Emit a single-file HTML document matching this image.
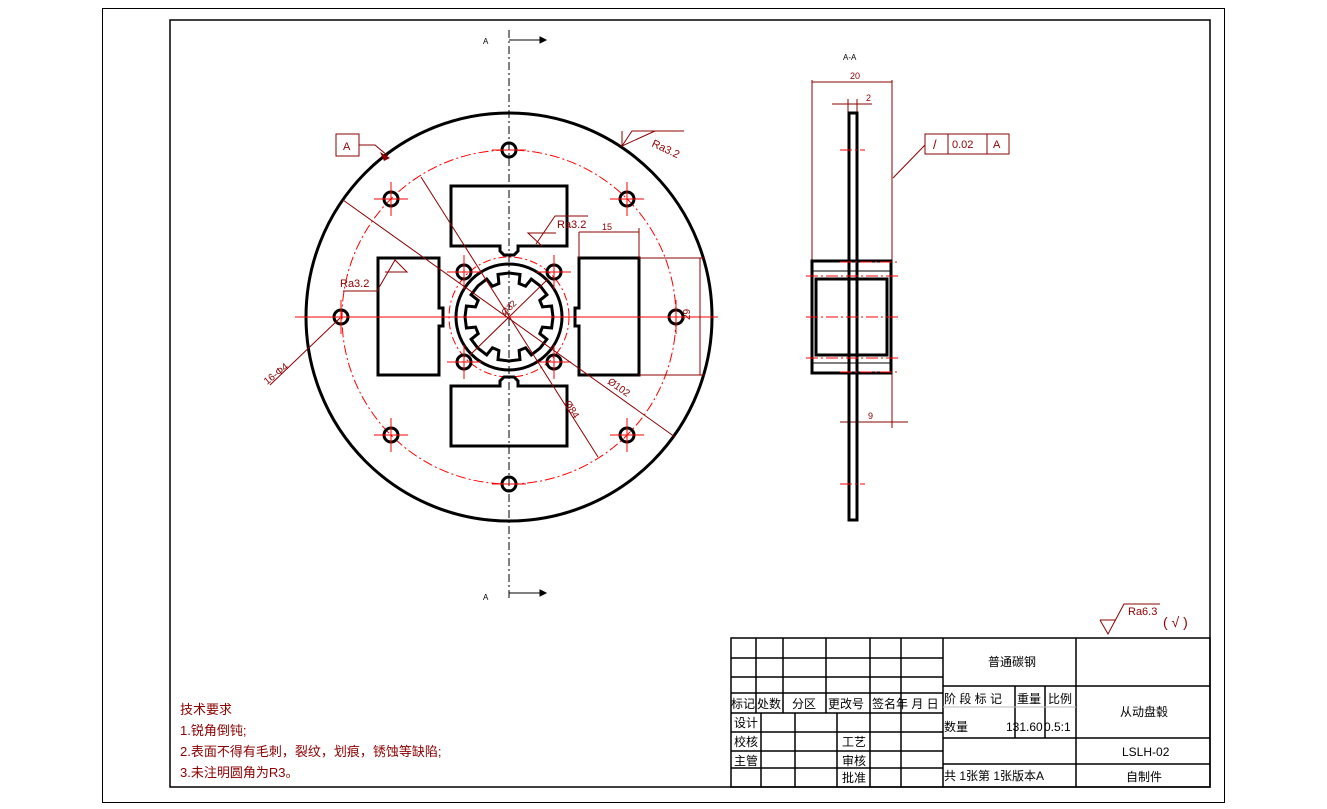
<!DOCTYPE html>
<html><head><meta charset="utf-8"><style>
html,body{margin:0;padding:0;background:#fff}
svg{display:block}
text{font-family:"Liberation Sans","Noto Sans CJK SC",sans-serif}
</style></head><body>
<svg id="s" width="1327" height="809" viewBox="0 0 1327 809" xmlns="http://www.w3.org/2000/svg">
<rect x="102.5" y="8.5" width="1122" height="794" fill="none" stroke="#000" stroke-width="1"/>
<rect x="170" y="20" width="1040" height="767" fill="none" stroke="#000" stroke-width="1.5"/>

<!-- section A markers -->
<g stroke="#000" stroke-width="1" fill="none">
<line x1="509" y1="30" x2="509" y2="600" stroke-dasharray="8,3,2,3"/>
<line x1="509" y1="40" x2="540" y2="40"/><polygon points="540,37 546,40 540,43" fill="#000"/>
<line x1="509" y1="593" x2="540" y2="593"/><polygon points="540,590 546,593 540,596" fill="#000"/>
</g>
<text x="483" y="44" font-size="8">A</text>
<text x="483" y="600" font-size="8">A</text>

<!-- main view -->
<circle cx="509" cy="317" r="167" fill="none" stroke="#f00" stroke-width="1" stroke-dasharray="10,3,2,3"/>
<circle cx="509" cy="317" r="60" fill="none" stroke="#f00" stroke-width="1" stroke-dasharray="8,3,2,3"/>
<ellipse cx="509" cy="317" rx="203" ry="204" fill="none" stroke="#000" stroke-width="3"/>
<g fill="none" stroke="#000" stroke-width="3">
<path d="M451,186 H567 V246 H518 V251 L514,255 H504 L500,251 V246 H451 Z"/>
<path d="M451,446 H567 V386 H518 V381 L514,377 H504 L500,381 V386 H451 Z"/>
<path d="M378,258 H439 V308 H443 V326 H439 V375 H378 Z"/>
<path d="M639,258 H579 V308 H575 V326 H579 V375 H639 Z"/>
<circle cx="509" cy="317" r="53"/>
<circle cx="509" cy="150" r="7"/><circle cx="509" cy="484" r="7"/>
<circle cx="341" cy="317" r="7"/><circle cx="676" cy="317" r="7"/>
<circle cx="391" cy="199" r="7"/><circle cx="627" cy="199" r="7"/>
<circle cx="391" cy="435" r="7"/><circle cx="627" cy="435" r="7"/>
<circle cx="464" cy="272" r="7"/><circle cx="554" cy="272" r="7"/>
<circle cx="464" cy="362" r="7"/><circle cx="554" cy="362" r="7"/>
<path id="gear" d=""/>
</g>
<g stroke="#f00" stroke-width="1">
<line x1="295" y1="317" x2="718" y2="317"/>
<line x1="330" y1="150" x2="530" y2="150" stroke-width="0"/>
<line x1="374" y1="199" x2="408" y2="199"/><line x1="391" y1="182" x2="391" y2="216"/>
<line x1="610" y1="199" x2="644" y2="199"/><line x1="627" y1="182" x2="627" y2="216"/>
<line x1="374" y1="435" x2="408" y2="435"/><line x1="391" y1="418" x2="391" y2="452"/>
<line x1="610" y1="435" x2="644" y2="435"/><line x1="627" y1="418" x2="627" y2="452"/>
<line x1="447" y1="272" x2="481" y2="272"/><line x1="464" y1="255" x2="464" y2="289"/>
<line x1="537" y1="272" x2="571" y2="272"/><line x1="554" y1="255" x2="554" y2="289"/>
<line x1="447" y1="362" x2="481" y2="362"/><line x1="464" y1="345" x2="464" y2="379"/>
<line x1="537" y1="362" x2="571" y2="362"/><line x1="554" y1="345" x2="554" y2="379"/>
<line x1="492" y1="150" x2="526" y2="150"/><line x1="492" y1="484" x2="526" y2="484"/>
<line x1="341" y1="300" x2="341" y2="334"/><line x1="676" y1="300" x2="676" y2="334"/>
</g>
<!-- dimension lines -->
<g stroke="#8b0000" stroke-width="1" fill="none">
<line x1="343" y1="200" x2="675" y2="437"/>
<line x1="421" y1="177" x2="598" y2="457"/>
<line x1="470" y1="355" x2="548" y2="279"/>
<line x1="340" y1="318" x2="270" y2="385"/>
<line x1="579" y1="232" x2="579" y2="258"/><line x1="639" y1="228" x2="639" y2="258"/>
<line x1="579" y1="232" x2="639" y2="232"/>
<line x1="639" y1="258" x2="705" y2="258"/><line x1="639" y1="375" x2="705" y2="375"/>
<line x1="700" y1="258" x2="700" y2="375"/>
<polyline points="536,244 555,216 588,216"/><polyline points="528,233 542,246 528,233 556,233" />
<polyline points="343,291 377,291 395,260 407,272 385,272"/>
<polyline points="622,146 632,131 684,131 684,131"/><polyline points="622,131 622,146 655,131"/>
<rect x="336" y="134" width="23" height="22"/>
<polyline points="359,145 375,145 388,156"/>
</g>
<polygon points="380,152 390,158 384,161" fill="#8b0000"/>
<g fill="#8b0000" font-size="11">
<text x="343" y="150">A</text>
<text x="557" y="228">Ra3.2</text>
<text x="602" y="230" font-size="9">15</text>
<text x="340" y="287">Ra3.2</text>
<text x="651" y="146" transform="rotate(25 651 146)">Ra3.2</text>
<text x="607" y="383" font-size="10" transform="rotate(35 607 383)">Ø102</text>
<text x="564" y="403" font-size="10" transform="rotate(58 564 403)">Ø84</text>
<text x="505" y="316" font-size="9" transform="rotate(-45 505 316)">Ø32</text>
<text x="690" y="320" font-size="10" transform="rotate(-90 690 320)">29</text>
<text x="267" y="385" font-size="10" transform="rotate(-38 267 385)">16-Φ4</text>
</g>

<!-- side view -->
<text x="843" y="60" font-size="8">A-A</text>
<g stroke="#8b0000" stroke-width="1" fill="none">
<line x1="812" y1="80" x2="812" y2="262"/><line x1="892" y1="80" x2="892" y2="262"/>
<line x1="812" y1="82" x2="892" y2="82"/>
<line x1="832" y1="104" x2="872" y2="104"/>
<line x1="848" y1="99" x2="848" y2="112"/><line x1="857" y1="99" x2="857" y2="112"/>
<line x1="857" y1="372" x2="857" y2="425"/><line x1="892" y1="372" x2="892" y2="428"/>
<line x1="840" y1="422" x2="908" y2="422"/>
<line x1="893" y1="178" x2="925" y2="145"/>
<rect x="925" y="134" width="84" height="20"/>
<line x1="948" y1="134" x2="948" y2="154"/><line x1="987" y1="134" x2="987" y2="154"/>
</g>
<g fill="#8b0000" font-size="11">
<text x="850" y="79" font-size="9">20</text>
<text x="866" y="101" font-size="9">2</text>
<text x="868" y="419" font-size="9">9</text>
<text x="952" y="148">0.02</text><text x="993" y="148">A</text>
<text x="933" y="149" font-size="13">/</text>
</g>
<g stroke="#000" fill="none" stroke-width="3">
<rect x="849" y="113" width="8" height="407"/>
<rect x="812" y="261" width="79" height="112"/>
<rect x="816" y="279" width="71" height="76"/>
</g>
<g stroke="#000" stroke-width="1">
<line x1="813" y1="271" x2="890" y2="271"/><line x1="813" y1="363" x2="890" y2="363"/>
</g>
<g stroke="#f00" stroke-width="1" stroke-dasharray="12,3,2,3">
<line x1="806" y1="317" x2="900" y2="317"/>
<line x1="806" y1="276" x2="900" y2="276"/><line x1="806" y1="358" x2="900" y2="358"/>
<line x1="840" y1="262" x2="900" y2="262"/><line x1="840" y1="372" x2="900" y2="372"/>
<line x1="840" y1="150" x2="865" y2="150"/><line x1="840" y1="484" x2="865" y2="484"/>
</g>

<!-- roughness note -->
<g stroke="#8b0000" fill="none" stroke-width="1">
<polyline points="1100,620 1108,634 1124,604 1160,604"/>
<line x1="1100" y1="620" x2="1116" y2="620"/>
</g>
<text x="1128" y="615" font-size="11" fill="#8b0000">Ra6.3</text>
<text x="1163" y="627" font-size="14" fill="#8b0000">( √ )</text>

<!-- tech requirements -->
<g fill="#8b0000" font-size="13">
<text x="180" y="714">技术要求</text>
<text x="180" y="735">1.锐角倒钝;</text>
<text x="180" y="756">2.表面不得有毛刺，裂纹，划痕，锈蚀等缺陷;</text>
<text x="180" y="777">3.未注明圆角为R3。</text>
</g>

<!-- title block -->
<g stroke="#000" stroke-width="1.5" fill="none">
<rect x="731" y="638" width="479" height="149"/>
<line x1="731" y1="658" x2="943" y2="658"/><line x1="731" y1="677" x2="943" y2="677"/>
<line x1="731" y1="693" x2="943" y2="693"/><line x1="731" y1="713" x2="943" y2="713"/>
<line x1="731" y1="732" x2="943" y2="732"/><line x1="731" y1="751" x2="943" y2="751"/>
<line x1="731" y1="768" x2="943" y2="768"/>
<line x1="756" y1="638" x2="756" y2="713"/><line x1="783" y1="638" x2="783" y2="713"/>
<line x1="826" y1="638" x2="826" y2="713"/><line x1="870" y1="638" x2="870" y2="787"/>
<line x1="901" y1="638" x2="901" y2="787"/><line x1="943" y1="638" x2="943" y2="787"/>
<line x1="761" y1="713" x2="761" y2="787"/><line x1="795" y1="713" x2="795" y2="787"/>
<line x1="837" y1="713" x2="837" y2="787"/>
<line x1="1076" y1="638" x2="1076" y2="787"/>
<line x1="943" y1="686" x2="1210" y2="686"/>
<line x1="943" y1="738" x2="1210" y2="738"/>
<line x1="943" y1="764" x2="1210" y2="764"/>
<line x1="1015" y1="686" x2="1015" y2="738"/><line x1="1045" y1="686" x2="1045" y2="738"/>
<line x1="943" y1="707" x2="1076" y2="707" stroke="#bbb" stroke-width="1"/>
</g>
<g font-size="12" fill="#000">
<text x="731" y="708">标记</text><text x="757" y="708">处数</text><text x="792" y="708">分区</text>
<text x="828" y="708">更改号</text><text x="872" y="708">签名</text><text x="896" y="708">年 月 日</text>
<text x="734" y="727">设计</text><text x="734" y="746">校核</text><text x="734" y="765">主管</text>
<text x="842" y="746">工艺</text><text x="842" y="765">审核</text><text x="842" y="782">批准</text>
<text x="988" y="666">普通碳钢</text>
<text x="944" y="703">阶 段 标 记</text><text x="1017" y="703">重量</text><text x="1048" y="703">比例</text>
<text x="944" y="731">数量</text><text x="1006" y="731">131.60</text><text x="1044" y="731">0.5:1</text>
<text x="944" y="780">共 1张第 1张版本A</text>
<text x="1120" y="716">从动盘毂</text>
<text x="1122" y="756">LSLH-02</text>
<text x="1126" y="781">自制件</text>
</g>
</svg>
<script>
(function(){
var cx=509,cy=317,d="";
for(var i=0;i<8;i++){
 var a0=i*Math.PI/4+Math.PI/8;
 var pts=[[a0-0.2,44],[a0-0.12,44],[a0-0.08,36],[a0+0.08,36],[a0+0.12,44],[a0+0.2,44]];
 // tooth out, valley in
 var P=[[a0-0.39,44],[a0-0.14,44],[a0-0.1,35],[a0+0.1,35],[a0+0.14,44]];
 P.forEach(function(p,j){var x=cx+p[1]*Math.cos(p[0]),y=cy+p[1]*Math.sin(p[0]);d+=(i==0&&j==0?"M":"L")+x.toFixed(1)+","+y.toFixed(1);});
}
document.getElementById("gear").setAttribute("d",d+"Z");
})();
</script>
</body></html>
